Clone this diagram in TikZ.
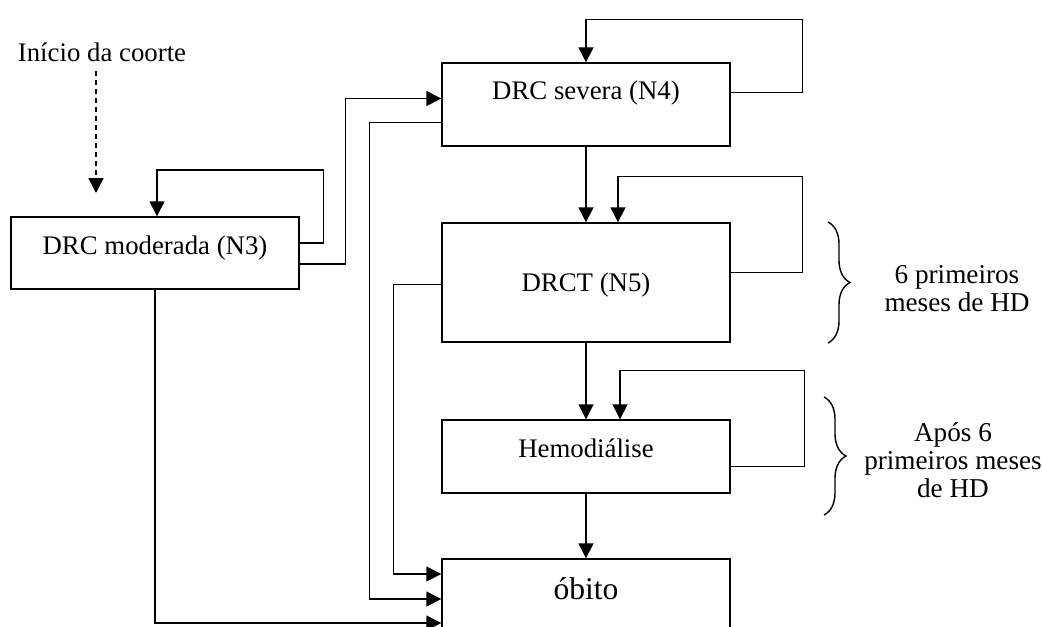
\documentclass[tikz,border=0pt]{standalone}
\usepackage{fontspec}
\setmainfont{Liberation Serif}
\usetikzlibrary{arrows.meta,decorations.pathreplacing}
\def\statenode{\node[draw,minimum width=144pt,inner sep=0pt,font=\fontsize{13.4}{16}\selectfont]}
\def\phasenode{\node[align=center,inner sep=0pt,font=\fontsize{13.6}{14}\selectfont]}
\def\drawflow{\draw[-{Triangle[length=7.5pt,width=7.5pt]}]}
\def\drawbrace{\draw[decorate,decoration={brace,amplitude=11pt}]}
\begin{document}
\begin{tikzpicture}[x=0.5pt,y=-0.5pt,line width=0.7pt]
\clip (0,0) rectangle (1042,626);
\node[font=\fontsize{13.4}{16}\selectfont] (inicio) at (102,52) {Início da coorte};
\coordinate (cohort) at (96,193);
\statenode[text height=18.5pt,text depth=17.5pt] (n3) at (155,253) {DRC moderada (N3)};
\statenode[text height=18pt,text depth=23.5pt] (n4) at (586,104.5) {DRC severa (N4)};
\statenode[text height=34pt,text depth=25.5pt] (n5) at (586,282.5) {DRCT (N5)};
\statenode[text height=18.5pt,text depth=18pt] (hemo) at (586,456.5) {Hemodiálise};
\statenode[text height=20pt,text depth=20pt,font=\fontsize{15.8}{18}\selectfont] (obito) at (586,599) {óbito};
\phasenode (fase1) at (957,289) {6 primeiros\\meses de HD};
\phasenode (fase2) at (953,460) {Após 6\\primeiros meses\\de HD};
% entrada na coorte
\drawflow[dashed,dash pattern=on 2.5pt off 2pt] ([yshift=-1pt]inicio.south -| cohort) -- (cohort);
% permanencia no estado
\drawflow ([yshift=5pt]n3.east) -| ++(24,-73) -| ([xshift=1pt]n3.north);
\drawflow ([yshift=6pt]n4.east) -| ++(72,-73) -| (n4.north);
\drawflow ([yshift=5pt]n5.east) -| ++(72,-96) -| ([xshift=16pt]n5.north);
\drawflow ([yshift=-5pt]hemo.east) -| ++(74,-96) -| ([xshift=17pt]hemo.north);
% progressao
\drawflow ([yshift=-5.5pt]n3.east) -- ++(46,0) |- ([yshift=3pt]n4.west);
\drawflow (n4.south) -- (n5.north);
\drawflow (n5.south) -- (hemo.north);
\drawflow (hemo.south) -- (obito.north);
% obito
\drawflow ([yshift=-1pt]n5.west) -- ++(-48,0) |- ([yshift=12.5pt]obito.west);
\drawflow ([yshift=-9pt]n4.west) -- ++(-72,0) |- (obito.west);
\drawflow (n3.south) |- ([yshift=-12pt]obito.west);
% fases da HD
\drawbrace (828,222) -- (828,343);
\drawbrace (824,397) -- (824,515);
\end{tikzpicture}
\end{document}
